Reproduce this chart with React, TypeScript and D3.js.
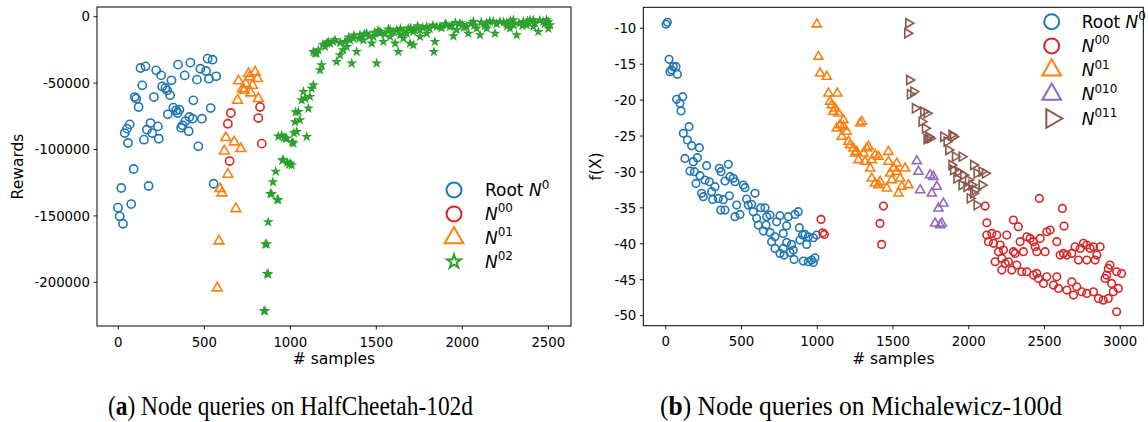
import React from "react";
import * as d3 from "d3";

// ---------- Panel (a): HalfCheetah-102d ----------
const aRootX = [129,158,220,249,309,347,419,386,477,510,519,548,569,527,457,139,255,274,284,301,207,95,104,118,436,537,288,320,336,355,345,413,432,486,390,374,365,409,187,230,166,197,235,149,66,50,37,56,465,89,176,17,554,75,-2,8,27];
const aRootY = [-38650,-37400,-40400,-44200,-47900,-36100,-34600,-44200,-39200,-40900,-31600,-32400,-44900,-46700,-47400,-51700,-52500,-53700,-55500,-59200,-60500,-60500,-61700,-68000,-63000,-68800,-73500,-68500,-70500,-70000,-72500,-75500,-76800,-76800,-78600,-81800,-83600,-86300,-80100,-82600,-85100,-87600,-91900,-92600,-81100,-84300,-87600,-95100,-97600,-114700,-127500,-129000,-125800,-141100,-143800,-150300,-155900];

const aN00X = [654,637,824,814,834,647];
const aN00Y = [-72500,-80600,-68000,-76300,-95600,-108700];

const aN01X = [699,722,741,757,764,795,809,780,731,770,693,814,625,674,616,712,637,591,602,683,585,575];
const aN01Y = [-48400,-54200,-50500,-42900,-45400,-41700,-46700,-51700,-55500,-57500,-63000,-61700,-91100,-94400,-101200,-99400,-118700,-129500,-132800,-144600,-168900,-204300];

const aN02X = [847,865,855,872,924,884,899,915,953,982,992,930,950,963,973,1011,1021,1031,1027,892,930,863,872,853,
  979,1018,1095,959,998,1008,1037,1056,1047,1105,1066,1085,1076,1124,1134,1114,1173,1182,1143,1163,1202,1231,1269,1289,1308,1328,1357,1386,1347,1405,1444,1502,1473,1521,1541,1580,1609,1628,1657,1686,1696,1715,1754,1793,1835,1841,1870,1909,1948,1987,2035,2064,2103,2142,2190,2219,2277,2297,2316,2355,2413,2442,2471,2500,2510,
  1715,1618,1580,1521,1483,1425,1366,1318,1250,1211,1153,1134,1793,1754,1967,2025,2142,2258,2374,2394,2490,2413,2083,2180,2297,1851,1928,1676,1638,
  1190,1220,1260,1290,1340,1370,1400,1430,1460,1490,1510,1550,1570,1600,1640,1660,1700,1720,1740,1770,1810,1830,1880,1900,1940,1960,2000,2010,2050,2070,2110,2130,2160,2200,2240,2260,2280,2330,2350,2380,2420,2450,2480,2500];
const aN02Y = [-221600,-193500,-171400,-154600,-137800,-133300,-124500,-116500,-108200,-109900,-111400,-90100,-89400,-91100,-91900,-94400,-87600,-71800,-79300,-133500,-138000,-171200,-194000,-221600,
  -91600,-95400,-90400,-107900,-110400,-111700,-86600,-77800,-71500,-69000,-62800,-61500,-56500,-54000,-51500,-60200,-40200,-36400,-27600,-25100,-22600,-20100,-33900,-28900,-25100,-22600,-35100,-26400,-17600,-13800,-12600,-35100,-20100,-11300,-18800,-15100,-20100,-26400,-16300,-8800,-20100,-21300,-10000,-7500,-26400,-18800,-7500,-6300,-14600,-5000,-12600,-3800,-13800,-5000,-12600,-3800,-8800,-6300,-13800,-3800,-7500,-11300,-3800,-8800,-6300,
  -11300,-10000,-10000,-12600,-15100,-17600,-16300,-18800,-18800,-20100,-27600,-26400,-12600,-15100,-10000,-7500,-8800,-5000,-6300,-2500,-2500,-2500,-8800,-3800,-2500,-7500,-7500,-12600,-13800,
  -21000,-19000,-17500,-19500,-15500,-14000,-16500,-13000,-14500,-12000,-10500,-13000,-9500,-11500,-9000,-11000,-8500,-9800,-7000,-8200,-9000,-6500,-8500,-5500,-6800,-4500,-6000,-8000,-5200,-6500,-4200,-7000,-3500,-5500,-4000,-7200,-3000,-5000,-6800,-3500,-4500,-2800,-5200,-4000];

const aXTicks = [0,500,1000,1500,2000,2500];
const aYTicks = [0,-50000,-100000,-150000,-200000];

// ---------- Panel (b): Michalewicz-100d ----------
const bRootX = [2,11,22,28,39,50,68,77,72,94,112,101,154,116,143,171,222,209,127,182,160,189,270,226,200,259,288,325,354,365,413,391,424,446,457,237,248,303,310,347,380,420,363,391,468,457,490,512,523,534,589,545,567,627,655,578,600,666,611,662,688,754,732,809,853,875,644,688,699,721,776,798,882,904,919,941,886,930,974,996,721,754,781,798,831,842,820,847,908,941,963,985,974,776];
const bRootY = [-9.44,-9.16,-14.32,-16.04,-15.8,-15.34,-15.34,-16.41,-19.89,-20.45,-19.52,-21.51,-23.7,-24.62,-25.55,-26.34,-26.62,-28.01,-28.11,-28.57,-29.87,-29.96,-29.13,-30.52,-31.59,-31.12,-31.36,-32.05,-29.5,-29.96,-28.94,-31.26,-30.66,-30.89,-31.36,-32.98,-33.44,-32.75,-33.82,-33.68,-33.86,-33.31,-35.3,-35.3,-34.61,-36.23,-35.91,-31.82,-32.19,-33.77,-32.98,-34.61,-34.51,-34.98,-34.98,-35.53,-36.46,-36.23,-37.39,-37.39,-35.99,-36.09,-36.93,-36.23,-35.91,-35.53,-38.23,-38.41,-39.71,-39.02,-38.55,-37.48,-37.76,-38.78,-38.69,-39.02,-39.48,-40.08,-39.16,-38.78,-40.64,-41.34,-41.57,-39.81,-40.08,-40.87,-41.2,-42.17,-42.4,-42.5,-42.27,-41.94,-42.59,-40.64];

const bN00X = [1025,1036,1047,1437,1414,1425,2108,2119,2466,2618,2629,2294,2327,
  2119,2152,2185,2130,2163,2207,2196,2229,2251,2174,2218,2240,2262,2284,2218,2295,2306,2339,2361,2383,2405,2427,2438,2449,2504,2471,2515,2537,2581,2603,2625,2647,2680,2702,2735,2757,2779,2801,2823,2845,2867,2724,2779,2834,2317,2350,2427,2460,2515,2559,2592,2647,2680,2713,2746,2779,2823,2856,2888,2921,2954,2987,2943,2976,3009,2910,2921,2932,2899,2976,2383,2449,2493,2581,2691];
const bN00Y = [-36.6,-38.46,-38.69,-34.75,-37.16,-40.08,-34.75,-37.07,-33.68,-35.07,-37.53,-36.69,-37.62,
  -38.78,-38.55,-38.78,-39.71,-39.94,-40.18,-41.1,-40.87,-38.78,-42.5,-42.03,-42.73,-42.5,-43.66,-43.66,-41.1,-41.34,-39.71,-41.1,-39.02,-39.25,-39.71,-40.41,-41.1,-41.1,-39.25,-38.32,-38.09,-39.71,-41.57,-41.34,-41.57,-41.34,-40.41,-40.64,-39.94,-40.18,-40.64,-40.41,-41.57,-40.41,-42.27,-42.27,-42.27,-42.96,-43.89,-44.35,-44.82,-44.59,-45.75,-46.21,-46.44,-45.28,-45.98,-46.68,-46.91,-46.68,-47.6,-47.84,-47.6,-46.68,-46.21,-45.52,-43.89,-44.12,-44.35,-43.43,-42.96,-44.82,-49.46,-43.89,-44.12,-45.52,-44.59,-47.14];

const bN01X = [997,1008,1019,1063,1074,1133,1085,1096,1107,1140,1118,1151,1173,1162,1195,1206,1283,1294,1217,1239,1250,1272,1305,1327,1338,1360,1382,1404,1349,1360,1382,1404,1470,1470,1525,1459,1481,1492,1525,1547,1536,1558,1580,1602,1173,1129,1261,1316,1415,1503];
const bN01Y = [-9.44,-13.95,-16.27,-16.73,-19.05,-19.05,-20.21,-20.68,-21.61,-21.84,-21.14,-23.46,-23.7,-25.09,-24.39,-25.78,-23.23,-23.0,-26.25,-26.71,-27.41,-28.34,-27.41,-26.71,-26.48,-28.34,-27.64,-27.87,-29.5,-30.89,-31.59,-31.82,-27.18,-28.57,-28.8,-32.28,-30.19,-31.12,-29.96,-30.89,-32.98,-32.05,-29.5,-31.82,-22.77,-23.93,-27.18,-28.57,-31.36,-29.5];

const bN010X = [1657,1668,1745,1767,1789,1679,1756,1833,1800,1778,1811,1822];
const bN010Y = [-28.48,-29.96,-30.43,-30.66,-32.05,-32.52,-32.98,-34.37,-35.07,-37.16,-37.39,-37.16];

const bN011X = [1602,1595,1608,1635,1613,1646,1701,1723,1690,1712,1733,1744,1723,1833,1855,1887,1898,1866,1910,1954,1887,1898,1931,1964,1997,2030,2053,2086,2108,1986,2019,2041,2086,2030,2008,2053,1920,1954];
const bN011Y = [-9.3,-10.7,-17.2,-18.82,-19.19,-21.14,-21.61,-21.84,-23.0,-23.93,-25.09,-25.32,-25.41,-25.09,-25.78,-24.86,-25.09,-26.94,-27.87,-27.87,-29.03,-29.73,-29.96,-30.43,-31.12,-29.03,-30.19,-29.96,-30.19,-32.05,-31.82,-32.52,-31.82,-32.98,-33.68,-34.61,-30.89,-31.82];

const bXTicks = [0,500,1000,1500,2000,2500,3000];
const bYTicks = [-10,-15,-20,-25,-30,-35,-40,-45,-50];

const C = {
  blue: "#1f77b4", orange: "#ff7f0e", green: "#2ca02c",
  red: "#d62728", purple: "#9467bd", brown: "#8c564b",
};

const FONT = "DejaVu Sans, sans-serif";

const sym = (type: any, size: number) => d3.symbol().type(type).size(size)() as string;

function Marks({ xs, ys, x, y, path, color, rot = 0, sw = 1.6 }: any) {
  return (
    <g>
      {xs.map((v: number, i: number) => (
        <path key={i} d={path}
          transform={`translate(${x(v)},${y(ys[i])})${rot ? ` rotate(${rot})` : ""}`}
          fill="none" stroke={color} strokeWidth={sw} strokeLinejoin="miter" />
      ))}
    </g>
  );
}

function Axes({ x, y, xTicks, yTicks, box, xlabel, ylabel, ylabelX }: any) {
  const [l, t, r, b] = box;
  return (
    <g fontFamily={FONT} fill="#000">
      {xTicks.map((v: number) => (
        <g key={"x" + v}>
          <line x1={x(v)} x2={x(v)} y1={b} y2={b + 3.5} stroke="#000" strokeWidth={0.9} />
          <text x={x(v)} y={b + 20.5} fontSize={13.3} textAnchor="middle">{String(v)}</text>
        </g>
      ))}
      {yTicks.map((v: number) => (
        <g key={"y" + v}>
          <line x1={l - 3.5} x2={l} y1={y(v)} y2={y(v)} stroke="#000" strokeWidth={0.9} />
          <text x={l - 7} y={y(v) + 4.8} fontSize={13.3} textAnchor="end">{String(v)}</text>
        </g>
      ))}
      <rect x={l} y={t} width={r - l} height={b - t} fill="none" stroke="#000" strokeWidth={1} />
      <text x={(l + r) / 2} y={364} fontSize={15.5} textAnchor="middle">{xlabel}</text>
      <text transform={`translate(${ylabelX},${(t + b) / 2}) rotate(-90)`} fontSize={15.5} textAnchor="middle">{ylabel}</text>
    </g>
  );
}

function Legend({ items, mx, tx, y0, dy }: any) {
  return (
    <g fontFamily={FONT}>
      {items.map((it: any, i: number) => (
        <g key={i}>
          <path d={it.path} transform={`translate(${mx},${y0 + i * dy})${it.rot ? ` rotate(${it.rot})` : ""}`}
            fill="none" stroke={it.color} strokeWidth={2} />
          <text x={tx} y={y0 + i * dy + 6} fontSize={17}>
            {it.root ? "Root " : ""}
            <tspan fontStyle="italic">N</tspan>
            <tspan dy={-7.5} fontSize={12}>{it.sup}</tspan>
          </text>
        </g>
      ))}
    </g>
  );
}

export default function App() {
  const aBox = [97, 7, 571, 326];
  const xA = d3.scaleLinear().domain([-124, 2632]).range([aBox[0], aBox[2]]);
  const yA = d3.scaleLinear().domain([-232900, 7300]).range([aBox[3], aBox[1]]);

  const bBox = [643.3, 7.3, 1143.3, 325.7];
  const xB = d3.scaleLinear().domain([-148, 3152]).range([bBox[0], bBox[2]]);
  const yB = d3.scaleLinear().domain([-51.4, -7.08]).range([bBox[3], bBox[1]]);

  const circ = sym(d3.symbolCircle, Math.PI * 4.1 * 4.1);
  const tri = sym(d3.symbolTriangle, 42);
  const star = sym(d3.symbolStar, 11);
  const circB = sym(d3.symbolCircle, Math.PI * 3.8 * 3.8);
  const triB = sym(d3.symbolTriangle, 36);

  const lCirc = sym(d3.symbolCircle, Math.PI * 7.5 * 7.5);
  const lTri = sym(d3.symbolTriangle, 150);
  const lStar = sym(d3.symbolStar, 60);

  const capFont = "Liberation Serif, Times New Roman, serif";

  return (
    <svg width={1148} height={422} style={{ position: "absolute", left: 0, top: 0, background: "#fff" }}>
      <rect width={1148} height={422} fill="#fff" />
      {/* Panel (a) */}
      <g>
        <Marks xs={aRootX} ys={aRootY} x={xA} y={yA} path={circ} color={C.blue} />
        <Marks xs={aN00X} ys={aN00Y} x={xA} y={yA} path={circ} color={C.red} />
        <Marks xs={aN01X} ys={aN01Y} x={xA} y={yA} path={tri} color={C.orange} />
        <Marks xs={aN02X} ys={aN02Y} x={xA} y={yA} path={star} color={C.green} sw={1.6} />
        <Axes x={xA} y={yA} xTicks={aXTicks} yTicks={aYTicks} box={aBox} xlabel="# samples" ylabel="Rewards" ylabelX={23} />
        <Legend mx={454} tx={485} y0={190} dy={23.9} items={[
          { path: lCirc, color: C.blue, root: true, sup: "0" },
          { path: lCirc, color: C.red, sup: "00" },
          { path: lTri, color: C.orange, sup: "01" },
          { path: lStar, color: C.green, sup: "02" },
        ]} />
      </g>
      {/* Panel (b) */}
      <g>
        <Marks xs={bRootX} ys={bRootY} x={xB} y={yB} path={circB} color={C.blue} />
        <Marks xs={bN00X} ys={bN00Y} x={xB} y={yB} path={circB} color={C.red} />
        <Marks xs={bN01X} ys={bN01Y} x={xB} y={yB} path={triB} color={C.orange} />
        <Marks xs={bN010X} ys={bN010Y} x={xB} y={yB} path={triB} color={C.purple} />
        <Marks xs={bN011X} ys={bN011Y} x={xB} y={yB} path={triB} color={C.brown} rot={90} />
        <Axes x={xB} y={yB} xTicks={bXTicks} yTicks={bYTicks} box={bBox} xlabel="# samples" ylabel="f(X)" ylabelX={601} />
        <Legend mx={1051.7} tx={1081.7} y0={21.7} dy={24.2} items={[
          { path: lCirc, color: C.blue, root: true, sup: "0" },
          { path: lCirc, color: C.red, sup: "00" },
          { path: lTri, color: C.orange, sup: "01" },
          { path: lTri, color: C.purple, sup: "010" },
          { path: lTri, color: C.brown, sup: "011", rot: 90 },
        ]} />
      </g>
      {/* Captions */}
      <g fontFamily={capFont} fontSize={27} fill="#000">
        <text x={108} y={415} textLength={365} lengthAdjust="spacingAndGlyphs">(<tspan fontWeight="bold">a</tspan>) Node queries on HalfCheetah-102d</text>
        <text x={660} y={415} textLength={402} lengthAdjust="spacingAndGlyphs">(<tspan fontWeight="bold">b</tspan>) Node queries on Michalewicz-100d</text>
      </g>
    </svg>
  );
}
